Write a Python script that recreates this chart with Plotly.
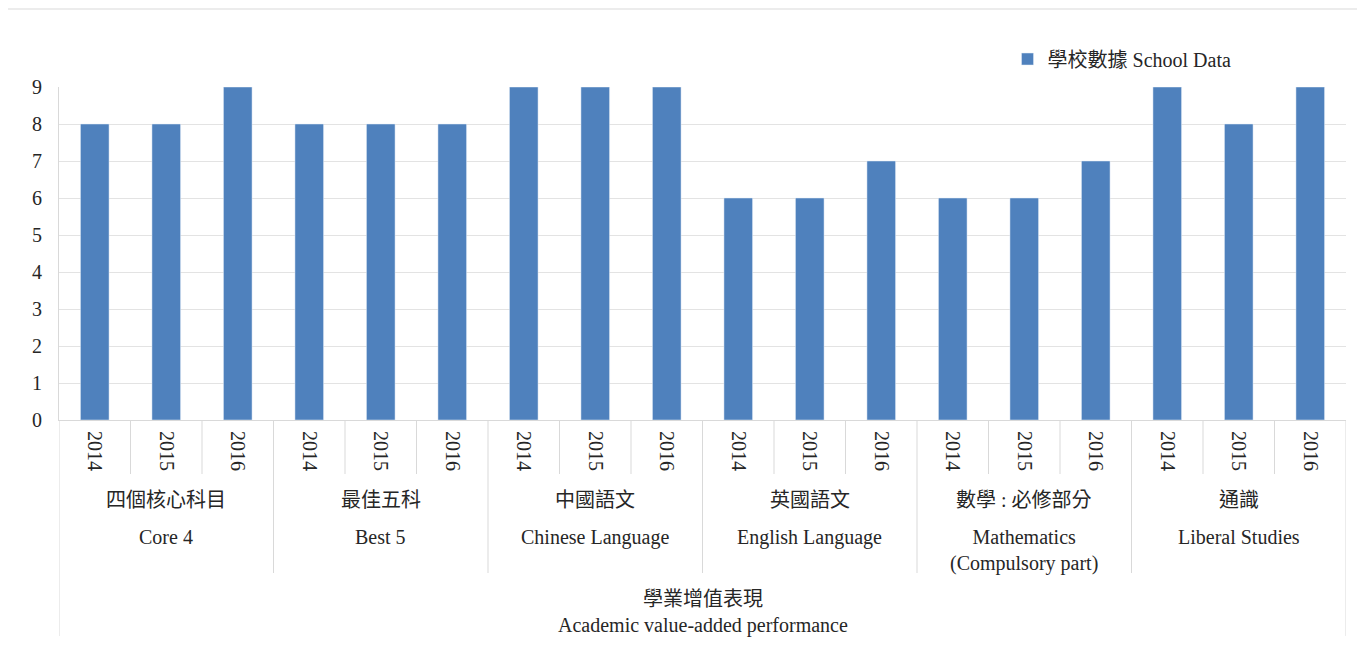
import plotly.graph_objects as go

years = ["2014", "2015", "2016"]
groups_zh = ["四個核心科目", "最佳五科", "中國語文", "英國語文", "數學 : 必修部分", "通識"]
groups_en = ["Core 4", "Best 5", "Chinese Language", "English Language",
             "Mathematics<br>(Compulsory part)", "Liberal Studies"]
school_data = [8, 8, 9, 8, 8, 8, 9, 9, 9, 6, 6, 7, 6, 6, 7, 9, 8, 9]
y_ticks = list(range(10))
series_name = "學校數據 School Data"
axis_title_zh = "學業增值表現"
axis_title_en = "Academic value-added performance"

FONT = "Liberation Serif, Noto Sans CJK TC, serif"
TXT = "#262626"
GRID = "#E3E3E3"
LINE = "#D9D9D9"

n = len(school_data)
xpos = list(range(n))
xlabels = years * len(groups_zh)

fig = go.Figure()
fig.add_trace(
    go.Bar(
        x=xpos,
        y=school_data,
        name=series_name,
        marker_color="#4F81BD",
        width=0.4,
        showlegend=True,
        hoverinfo="skip",
    )
)

# separators under the category axis
shapes = []
for k in range(n + 1):
    if k in (0, n):
        y0 = -0.6486
    elif k % 3 == 0:
        y0 = -0.4595
    else:
        y0 = -0.1622
    shapes.append(
        dict(type="line", xref="x", yref="paper", x0=k - 0.5, x1=k - 0.5,
             y0=0, y1=y0, line=dict(color=LINE, width=1), layer="below")
    )
# outer chart border
shapes.append(
    dict(type="rect", xref="paper", yref="paper", x0=-0.0404, x1=1.0124,
         y0=-0.75, y1=1.2342, line=dict(color=LINE, width=1), layer="below")
)

annotations = []
for i, (zh, en) in enumerate(zip(groups_zh, groups_en)):
    cx = 3 * i + 1
    annotations.append(
        dict(xref="x", yref="paper", x=cx, y=-0.2402, yanchor="middle",
             text=zh, showarrow=False, font=dict(size=20, color=TXT, family=FONT))
    )
    annotations.append(
        dict(xref="x", yref="paper", x=cx, y=-0.3123, yanchor="top",
             text=en, showarrow=False, font=dict(size=20, color=TXT, family=FONT))
    )
annotations.append(
    dict(xref="paper", yref="paper", x=0.5, y=-0.578, yanchor="middle",
         text=axis_title_zh + "<br>" + axis_title_en, showarrow=False,
         font=dict(size=20, color=TXT, family=FONT))
)

fig.update_layout(
    width=1357,
    height=645,
    autosize=False,
    margin=dict(l=51, r=19, t=79, b=233),
    paper_bgcolor="white",
    plot_bgcolor="white",
    font=dict(family=FONT, size=20, color=TXT),
    bargap=0.6,
    showlegend=True,
    legend=dict(orientation="h", x=0.737, y=1.084, xanchor="left", yanchor="middle",
                bgcolor="rgba(0,0,0,0)", font=dict(size=20, color=TXT, family=FONT)),
    xaxis=dict(
        range=[-0.5, n - 0.5],
        tickmode="array",
        tickvals=xpos,
        ticktext=xlabels,
        tickangle=90,
        ticks="",
        showgrid=False,
        zeroline=False,
        showline=True,
        linecolor=LINE,
        tickfont=dict(size=20, color=TXT, family=FONT),
        ticklabelstandoff=6,
    ),
    yaxis=dict(
        range=[0, 9],
        tickmode="array",
        tickvals=y_ticks,
        ticks="",
        showgrid=True,
        gridcolor=GRID,
        zeroline=False,
        showline=True,
        linecolor=LINE,
        tickfont=dict(size=20, color=TXT, family=FONT),
        ticklabelstandoff=12,
    ),
    yaxis2=dict(
        range=[0, 9],
        overlaying="y",
        side="right",
        anchor="x",
        tickmode="array",
        tickvals=y_ticks,
        ticks="outside",
        ticklen=5,
        tickcolor=GRID,
        showticklabels=False,
        showgrid=False,
        zeroline=False,
        showline=True,
        linecolor=LINE,
        minor=dict(ticks="inside", ticklen=5, dtick=0.2, tickcolor=GRID, showgrid=False),
    ),
    shapes=shapes,
    annotations=annotations,
)

fig.write_html("out.html")
